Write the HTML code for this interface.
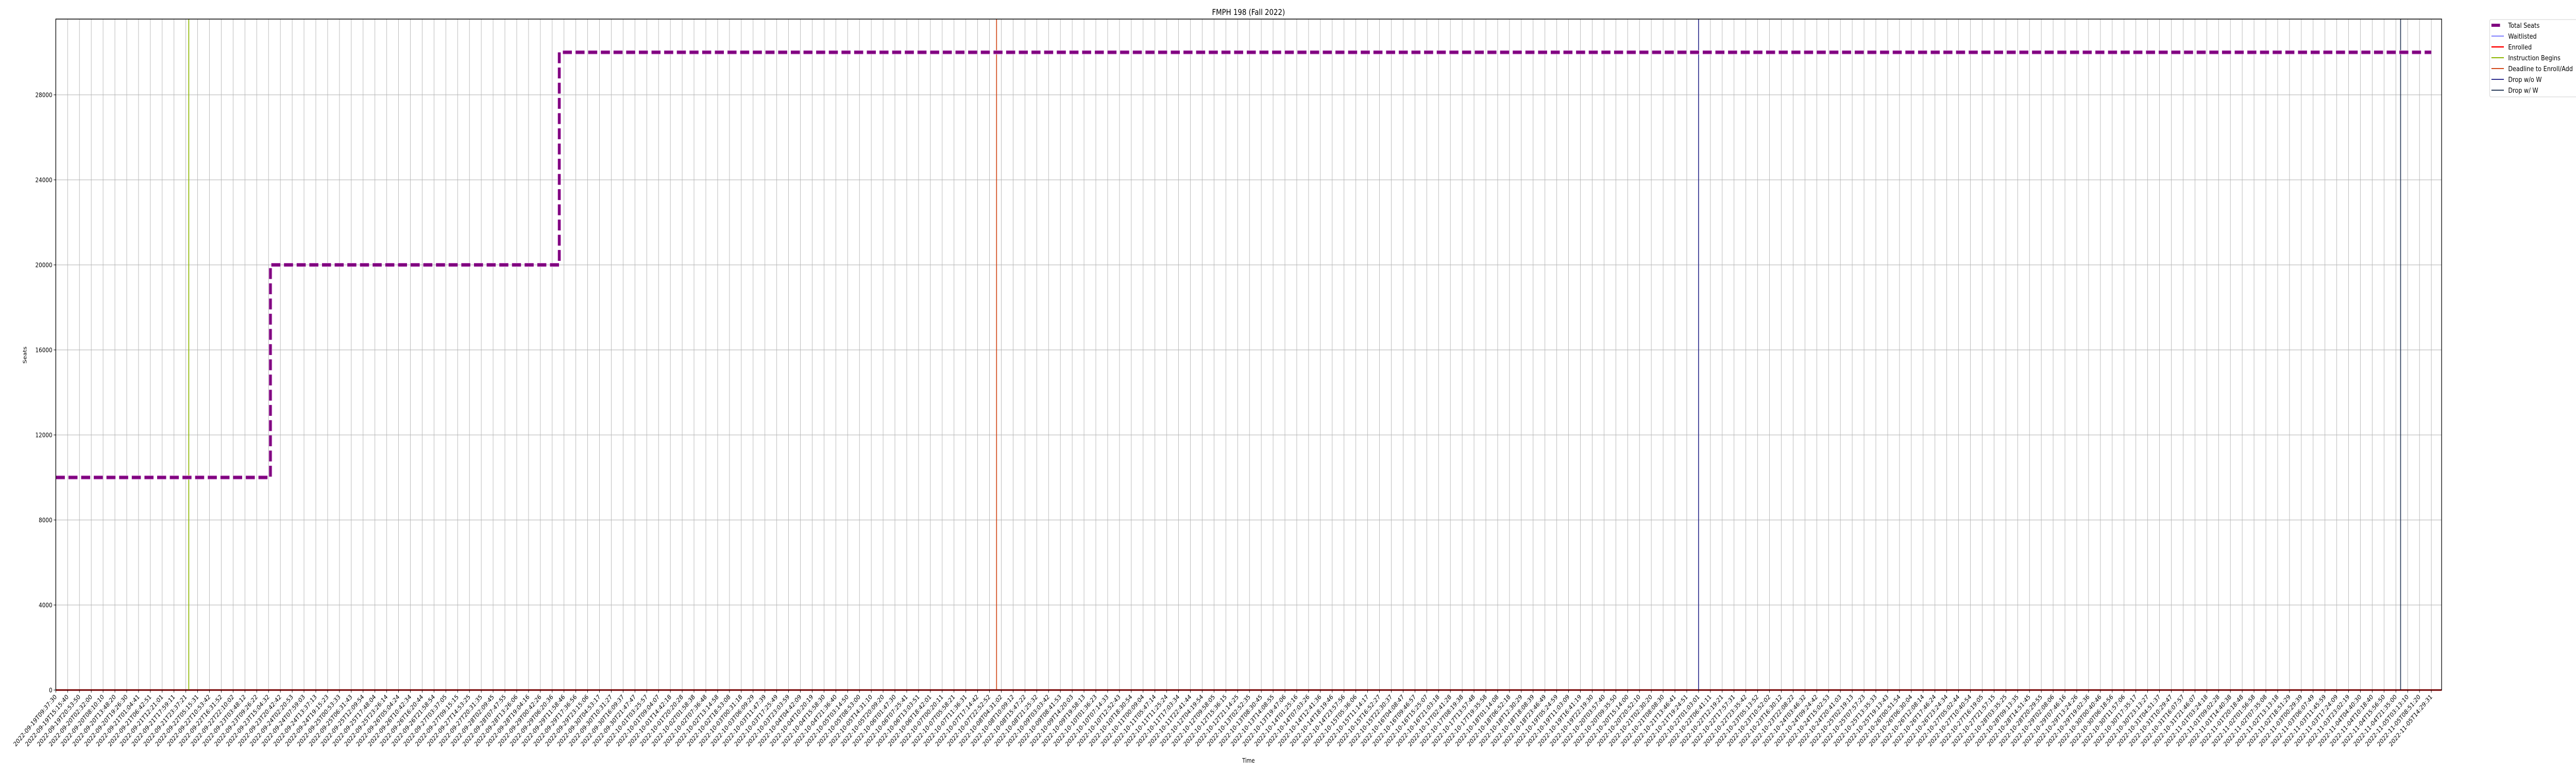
<!DOCTYPE html>
<html><head><meta charset="utf-8"><title>FMPH 198 (Fall 2022)</title>
<style>
html,body{margin:0;padding:0;background:#fff;width:100%;height:100%;overflow:hidden;}
svg{display:block;font-family:"DejaVu Sans","Liberation Sans",sans-serif;overflow:hidden;width:100vw;height:100vh;}
</style></head>
<body>
<svg id="chart" viewBox="0 0 6000 1500" preserveAspectRatio="none" xmlns="http://www.w3.org/2000/svg">
<defs><clipPath id="legclip"><rect x="5790" y="30" width="210" height="170"/></clipPath></defs>
<rect x="0" y="0" width="6000" height="1500" fill="#fff"/>
<g id="grid"></g>
<g id="marks"></g>
<g id="axes"></g>
<text x="2908" y="29" font-size="16" text-anchor="middle" fill="#000">FMPH 198 (Fall 2022)</text>
<text x="0" y="0" font-size="12" text-anchor="middle" transform="translate(62,689) rotate(-90)">Seats</text>
<text x="2908" y="1480" font-size="12" text-anchor="middle">Time</text>
<g id="legend" clip-path="url(#legclip)"></g>
</svg>
<script>
// ---- data ----
const tickStart = "2022-09-19T09:37:30";
const tickEnd = "2022-11-05T14:29:31";
const tickCount = 202;
const seatsX = [0, 18.16, 18.16, 42.6, 42.6, 201];
const seatsY = [10000, 10000, 20000, 20000, 30000, 30000];
const enrolledX = [0, 201];
const enrolledY = [0, 0];
const waitlistY = [0, 0];
const eventNames = ["Instruction Begins", "Deadline to Enroll/Add", "Drop w/o W", "Drop w/ W"];
const eventX = [11.25, 79.6, 139.0, 198.4];
const yTicks = [0, 4000, 8000, 12000, 16000, 20000, 24000, 28000];

// ---- layout ----
const L = 130, R = 5687, T = 37, B = 1339;
const x0 = 130, x1 = 5663;
const yMax = 31564;
const sx = i => x0 + (x1 - x0) * i / (tickCount - 1);
const sy = v => B - (B - T) * v / yMax;
const NS = "http://www.w3.org/2000/svg";
function mk(tag, attrs, parent) {
  const e = document.createElementNS(NS, tag);
  for (const k in attrs) e.setAttribute(k, attrs[k]);
  parent.appendChild(e);
  return e;
}
function pad(n) { return String(n).padStart(2, "0"); }
const t0 = Date.parse(tickStart + "Z"), t1 = Date.parse(tickEnd + "Z");
const tickLabels = [];
for (let i = 0; i < tickCount; i++) {
  const d = new Date(t0 + (t1 - t0) * i / (tickCount - 1));
  tickLabels.push(d.getUTCFullYear() + "-" + pad(d.getUTCMonth() + 1) + "-" + pad(d.getUTCDate()) + "T" + pad(d.getUTCHours()) + ":" + pad(d.getUTCMinutes()) + ":" + pad(d.getUTCSeconds()));
}

const grid = document.getElementById("grid");
const axes = document.getElementById("axes");
const marks = document.getElementById("marks");
const legend = document.getElementById("legend");

tickLabels.forEach((lab, i) => {
  const x = sx(i);
  const g = mk("line", {x1: x, y1: T, x2: x, y2: B, stroke: "#b0b0b0", "stroke-width": 1}, grid);
  
  
  const tk = mk("line", {x1: x, y1: B, x2: x, y2: B + 5, stroke: "#000", "stroke-width": 1}, axes);
  
  
  const t = mk("text", {x: 0, y: 0, "font-size": 12.5, "text-anchor": "end", transform: "translate(" + (x + 3) + "," + (B + 14) + ") rotate(-45)"}, axes);
  t.textContent = lab;
  
  
});
yTicks.forEach(v => {
  const y = sy(v);
  const g = mk("line", {x1: L, y1: y, x2: R, y2: y, stroke: "#b0b0b0", "stroke-width": 1}, grid);
  
  
  const tk = mk("line", {x1: L - 5, y1: y, x2: L, y2: y, stroke: "#000", "stroke-width": 1}, axes);
  
  
  const t = mk("text", {x: L - 8, y: y + 4.5, "font-size": 12.5, "text-anchor": "end"}, axes);
  t.textContent = String(v);
  
  
});

const wl = mk("polyline", {points: enrolledX.map((x, i) => sx(x) + "," + sy(waitlistY[i])).join(" "), fill: "none", stroke: "#0000ff", "stroke-width": 1.5}, marks);


const en = mk("polyline", {points: [L + "," + sy(enrolledY[0]), R + "," + sy(enrolledY[1])].join(" "), fill: "none", stroke: "#ff0000", "stroke-width": 3}, marks);



const eventColors = ["#8db600", "#d2491a", "#30308f", "#2c3e5c"];
eventX.forEach((ix, i) => {
  const x = sx(ix);
  const l = mk("line", {x1: x, y1: T, x2: x, y2: B, stroke: eventColors[i], "stroke-width": 2}, marks);
  
  
});

const pts = seatsX.map((x, i) => (x === 0 ? L : sx(x)) + "," + sy(seatsY[i])).join(" ");
const halo = mk("polyline", {points: pts, fill: "none", stroke: "#e0a8e0", "stroke-width": 8, "stroke-dasharray": "21,8.5"}, marks);


const seats = mk("polyline", {points: pts, fill: "none", stroke: "#800080", "stroke-width": 6, "stroke-dasharray": "21,8.5"}, marks);



const fr = mk("rect", {x: L, y: T, width: R - L, height: B - T, fill: "none", stroke: "#000", "stroke-width": 1.5}, axes);



const lb = mk("rect", {x: 5799, y: 38, width: 205, height: 150, rx: 3, fill: "#fff", stroke: "#d0d0d0", "stroke-width": 1}, legend);


const legNames = ["Total Seats", "Waitlisted", "Enrolled"].concat(eventNames);
const legColors = ["#800080", "#0000ff", "#ff0000"].concat(eventColors);
const legW = [6, 1, 2.5, 2, 2, 2, 2];
legNames.forEach((n, i) => {
  const y = 49 + i * 21;
  const ln = mk("line", {x1: 5803, y1: y, x2: i === 0 ? 5823 : 5832, y2: y, stroke: legColors[i], "stroke-width": legW[i]}, legend);
  
  
  const t = mk("text", {x: 5842, y: y + 5, "font-size": 13.5}, legend);
  t.textContent = n;
  
  
});
</script>
</body></html>
